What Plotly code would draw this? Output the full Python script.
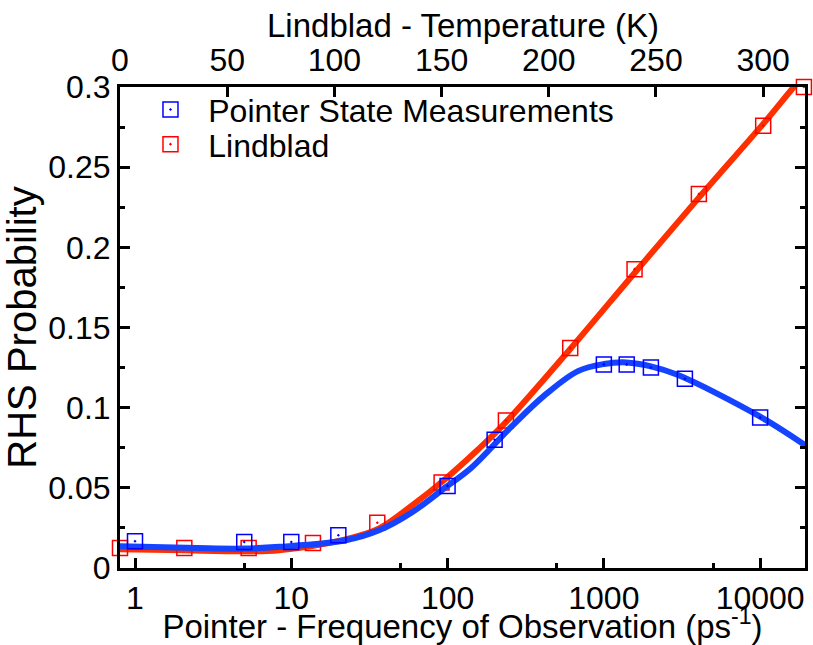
import plotly.graph_objects as go

# Pointer state measurements (bottom axis: frequency, ps^-1)
blue_freq = [1, 5, 10, 20, 100, 200, 1000, 1400, 2000, 3300, 10000]
blue_prob = [0.0167, 0.0162, 0.0162, 0.0204, 0.0512, 0.080, 0.127, 0.127, 0.125, 0.118, 0.0938]

# Lindblad (top axis: temperature, K)
red_temp = [0, 30, 60, 90, 120, 150, 180, 210, 240, 270, 300, 319]
red_prob = [0.0125, 0.0125, 0.0125, 0.0156, 0.0282, 0.0533, 0.092, 0.1372, 0.1864, 0.2333, 0.2759, 0.300]

# Fitted curves
blue_fit_freq = [0.8, 2.5, 5, 8.4, 22.3, 36.4, 59.3, 96.7, 142, 257, 419, 683, 1000, 1390, 2000,
                 2960, 10000, 19900]
blue_fit_prob = [0.0136, 0.0124, 0.0121, 0.0132, 0.0173, 0.0235, 0.0348, 0.0502, 0.0625, 0.0883,
                 0.1078, 0.1228, 0.1272, 0.1282, 0.1258, 0.1205, 0.0944, 0.0759]
red_fit_temp = [0, 30, 59, 74.2, 105.2, 120.6, 136.1, 151.6, 167, 180, 210, 240, 270, 300, 313, 320]
red_fit_prob = [0.0117, 0.0110, 0.0105, 0.0111, 0.0179, 0.0245, 0.0389, 0.0554, 0.0739, 0.091,
                0.1366, 0.184, 0.231, 0.277, 0.298, 0.309]

temp_ticks = [0, 50, 100, 150, 200, 250, 300]
freq_ticks = [1, 10, 100, 1000, 10000]
freq_minor = [5, 50, 500, 5000]
prob_ticks = [0, 0.05, 0.1, 0.15, 0.2, 0.25, 0.3]
prob_labels = ["0", "0.05", "0.1", "0.15", "0.2", "0.25", "0.3"]
prob_minor = [0.025, 0.075, 0.125, 0.175, 0.225, 0.275]

FONT = "Liberation Sans, Arial, sans-serif"
FS = 32
TFS = 33
NB = "\u00a0\u00a0"

fig = go.Figure()
fig.add_trace(go.Scatter(x=red_fit_temp, y=red_fit_prob, mode="lines", xaxis="x", yaxis="y",
                         line=dict(color="#ff3000", width=6, shape="spline", smoothing=1.0),
                         showlegend=False, hoverinfo="skip"))
fig.add_trace(go.Scatter(x=red_temp, y=red_prob, mode="markers", xaxis="x", yaxis="y",
                         name=NB + "Lindblad", legend="legend2", cliponaxis=False,
                         marker=dict(symbol="square-open-dot", size=15, color="#ff0000",
                                     line=dict(color="#ff0000", width=1.5))))
fig.add_trace(go.Scatter(x=blue_fit_freq, y=blue_fit_prob, mode="lines", xaxis="x2", yaxis="y",
                         line=dict(color="#1444ff", width=6, shape="spline", smoothing=1.0),
                         showlegend=False, hoverinfo="skip"))
fig.add_trace(go.Scatter(x=blue_freq, y=blue_prob, mode="markers", xaxis="x2", yaxis="y",
                         name=NB + "Pointer State Measurements", legend="legend", cliponaxis=False,
                         marker=dict(symbol="square-open-dot", size=15, color="#0000ff",
                                     line=dict(color="#0000ff", width=1.5))))

axis_common = dict(showgrid=False, zeroline=False, showline=True, linecolor="black", linewidth=3,
                   ticks="inside", ticklen=10, tickwidth=2.5, tickcolor="black",
                   tickfont=dict(family=FONT, size=FS, color="black"))

leg_common = dict(xanchor="left", yanchor="middle", bgcolor="rgba(0,0,0,0)",
                  font=dict(family=FONT, size=FS, color="black"))

fig.update_layout(
    width=813, height=645,
    margin=dict(l=120, r=5, t=87, b=72),
    paper_bgcolor="white", plot_bgcolor="white",
    font=dict(family=FONT, size=FS, color="black"),
    xaxis=dict(**axis_common, side="top", range=[0, 319.5], tickmode="array",
               tickvals=temp_ticks, ticktext=[str(t) for t in temp_ticks], anchor="y"),
    xaxis2=dict(**axis_common, type="log", side="bottom", overlaying="x", anchor="y",
                range=[-0.096, 4.287], tickmode="array", tickvals=freq_ticks,
                ticktext=[str(t) for t in freq_ticks],
                minor=dict(tickmode="array", tickvals=freq_minor, ticks="inside", ticklen=5,
                           tickwidth=2.5, tickcolor="black"),
                title=dict(text="Pointer - Frequency of Observation (ps<sup>-1</sup>)",
                           font=dict(family=FONT, size=TFS), standoff=0)),
    yaxis=dict(**axis_common, range=[0, 0.3], tickmode="array",
               tickvals=prob_ticks, ticktext=prob_labels, mirror="ticks",
               minor=dict(tickmode="array", tickvals=prob_minor,
                          ticks="inside", ticklen=5, tickwidth=2.5, tickcolor="black"),
               title=dict(text="RHS Probability", font=dict(family=FONT, size=40), standoff=6)),
    legend=dict(**leg_common, x=0.0445, y=0.9527),
    legend2=dict(**leg_common, x=0.0445, y=0.8807),
    annotations=[dict(text="Lindblad - Temperature (K)", xref="paper", yref="paper",
                      x=0.5, y=1.1276, xanchor="center", yanchor="middle", showarrow=False,
                      font=dict(family=FONT, size=TFS, color="black"))],
)

fig.write_html("out.html")
